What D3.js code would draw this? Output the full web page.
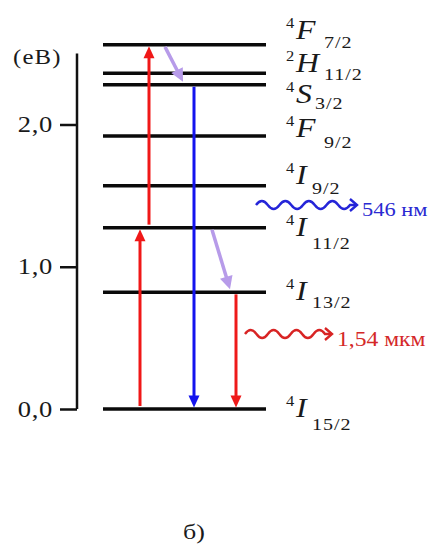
<!DOCTYPE html>
<html><head><meta charset="utf-8">
<script src="https://cdn.jsdelivr.net/npm/d3@7"></script>
<style>
html,body{margin:0;padding:0;background:#fff;}
svg{display:block;}
svg text{font-family:"Liberation Serif","Times New Roman",serif;fill:#1a1a1a;}
</style>
</head><body>
<svg id="chart" width="434" height="546"></svg>
<script>
// ---------- data ----------
const levelMult   = ["4","4","4","4","4","4","2","4"];
const levelLetter = ["I","I","I","I","F","S","H","F"];
const levelJ      = ["15/2","13/2","11/2","9/2","9/2","3/2","11/2","7/2"];
const levelEnergy = [0, 0.82, 1.275, 1.57, 1.92, 2.28, 2.36, 2.56];   // eV

const tickValues = [0, 1, 2];
const tickLabels = ["0,0", "1,0", "2,0"];
const axisMax    = 2.5;
const unitLabel  = "(еВ)";
const panelLabel = "б)";

// transitions (level indices)
const transFrom = [0, 2, 7, 5, 2, 1];
const transTo   = [2, 7, 5, 0, 1, 0];
const transKind = ["pump", "pump", "relax", "emit", "relax", "emit"];

const emissionText = ["546 нм", "1,54 мкм"];

// ---------- layout / style ----------
const SX = 1.18;                       // horizontal stretch of the lettering
const axisX = 77, levelX0 = 103, levelX1 = 266;
const transX0 = [140, 149, 165, 194, 212, 236];
const transX1 = [140, 149, 183, 194, 230, 236];
const transColor = ["#f01818", "#f01818", "#b79be9", "#1414ee", "#b79be9", "#ee1a1a"];
const mainDy = [8, 8, 8, -2, 1, 18, -1, -6];
const subDy  = [13, 8, 13, 10, 11, 6, 8, 9];
const subDx  = {I: 16, F: 28, H: 28, S: 19};

const svg = d3.select("#chart");
const y = d3.scaleLinear().domain([0, 2]).range([409, 124.5]);

function label(g, x, yy, size, txt, opts = {}) {
  const t = g.append("text")
    .attr("transform", `translate(${x},${yy}) scale(${SX},1)`)
    .attr("font-size", size).text(txt);
  if (opts.italic) t.attr("font-style", "italic");
  if (opts.ls) t.attr("letter-spacing", opts.ls);
  if (opts.color) t.style("fill", opts.color);
  return t;
}

// ---------- axis ----------
const axis = d3.axisLeft(y).tickValues(tickValues)
  .tickFormat((d, i) => tickLabels[i]).tickSize(17).tickSizeOuter(0).tickPadding(7);
const ag = svg.append("g").attr("transform", `translate(${axisX},0)`).call(axis);
ag.select(".domain").attr("d", `M0,${y(axisMax)}V${y(0)}`).attr("stroke", "#111").attr("stroke-width", 2.5);
ag.selectAll(".tick line").attr("stroke", "#111").attr("stroke-width", 2.5);
ag.selectAll(".tick text")
  .attr("x", -24 / SX).attr("transform", `scale(${SX},1)`)
  .attr("font-size", 22.5).attr("letter-spacing", 0.6).attr("fill", "#1a1a1a");

label(svg, 13, 64, 21, unitLabel, {ls: 1});

// ---------- levels ----------
svg.append("g").selectAll("line").data(levelEnergy).join("line")
  .attr("x1", levelX0).attr("x2", levelX1)
  .attr("y1", d => y(d)).attr("y2", d => y(d))
  .attr("stroke", "#0a0a0a").attr("stroke-width", 3.5);

// level labels
const lg = svg.append("g");
levelEnergy.forEach((e, i) => {
  const base = y(e) + mainDy[i];
  label(lg, 286, base - 11, 14, levelMult[i]);
  label(lg, 296, base, 27, levelLetter[i], {italic: true});
  label(lg, 296 + subDx[levelLetter[i]], base + subDy[i], 17, levelJ[i], {ls: 0.8});
});

// ---------- transition arrows ----------
const tg = svg.append("g");
transFrom.forEach((f, i) => {
  const t = transTo[i];
  const up = levelEnergy[t] > levelEnergy[f];
  const col = transColor[i];
  const xa = transX0[i], xb = transX1[i];
  let ya = y(levelEnergy[f]), yb = y(levelEnergy[t]);
  if (transKind[i] === "relax") { ya += 2; yb -= 3; }
  else if (up) { ya -= 3; yb += 1.5; }
  else { ya += 2; yb -= 1.5; }
  const ang = Math.atan2(yb - ya, xb - xa);
  const hl = transKind[i] === "relax" ? 13 : 12, hw = transKind[i] === "relax" ? 6.5 : 5.5;
  const bx = xb - hl * Math.cos(ang), by = yb - hl * Math.sin(ang);
  tg.append("line").attr("x1", xa).attr("y1", ya).attr("x2", bx + Math.cos(ang)).attr("y2", by + Math.sin(ang))
    .attr("stroke", col).attr("stroke-width", transKind[i] === "relax" ? 3.5 : 3);
  const px = -Math.sin(ang), py = Math.cos(ang);
  tg.append("path")
    .attr("d", `M${xb},${yb}L${bx + hw * px},${by + hw * py}L${bx - hw * px},${by - hw * py}Z`)
    .attr("fill", col);
});

// ---------- wavy emission arrows ----------
function wavy(x0, x1, yc, halfWaves, col) {
  const p = d3.path();
  const step = (x1 - x0) / halfWaves;
  p.moveTo(x0, yc);
  for (let k = 0; k < halfWaves; k++) {
    const sgn = k % 2 === 0 ? -1 : 1;
    p.quadraticCurveTo(x0 + step * (k + 0.5), yc + sgn * 8, x0 + step * (k + 1), yc);
  }
  p.lineTo(x1 + 6, yc);
  svg.append("path").attr("d", p.toString()).attr("fill", "none").attr("stroke", col).attr("stroke-width", 2.4);
  svg.append("path").attr("d", `M${x1},${yc - 6}L${x1 + 7},${yc}L${x1},${yc + 6}`)
    .attr("fill", "none").attr("stroke", col).attr("stroke-width", 2.4);
}
wavy(256, 350, 205, 8, "#2525d8");
wavy(245, 325, 334, 7, "#d82424");

label(svg, 362, 216, 19, emissionText[0], {color: "#2a2ad2"});
label(svg, 337, 346, 20, emissionText[1], {color: "#d42828"});

label(svg, 183, 539, 22, panelLabel);
</script>
</body></html>
